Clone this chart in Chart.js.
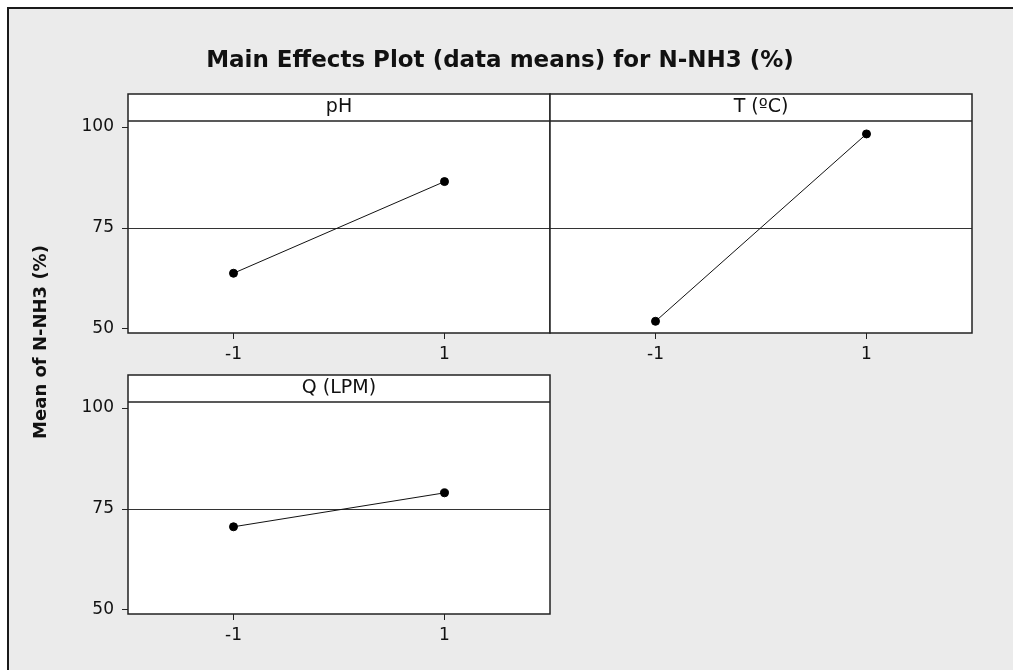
<!DOCTYPE html>
<html>
<head>
<meta charset="utf-8">
<script src="https://cdn.jsdelivr.net/npm/chart.js"></script>
<style>
  html, body { margin: 0; overflow: hidden; background: #fff; }
  #frame { position: fixed; left: 7px; top: 7px; right: -100px; bottom: -100px; background: #ebebeb;
    border-left: 2px solid #1a1a1a; border-top: 2px solid #1a1a1a; }
  canvas { position: absolute; }
  #title { position: absolute; left: 0; top: 48px; width: 1000px; text-align: center;
    font: bold 23px 'DejaVu Sans'; line-height: 23px; color: #111; }
  #ytitle { position: absolute; left: -109px; top: 330px; width: 300px; height: 24px; line-height: 24px;
    text-align: center; font: bold 18px 'DejaVu Sans'; color: #111; transform: rotate(-90deg); }
</style>
</head>
<body>
<div id="frame"></div>
<div id="title">Main Effects Plot (data means) for N-NH3 (%)</div>
<div id="ytitle">Mean of N-NH3 (%)</div>
<canvas id="phChart" width="500" height="285" style="left:60px;top:85px"></canvas>
<canvas id="tempChart" width="445" height="285" style="left:540px;top:85px"></canvas>
<canvas id="flowChart" width="500" height="305" style="left:60px;top:365px"></canvas>
<script>
// factor levels and mean responses
const xLevels = [-1, 1];
const xTickLabels = ['-1', '1'];
const yTicks = [50, 75, 100];
const phMeans = [63.8, 86.5];
const tempMeans = [51.9, 98.3];
const flowMeans = [70.6, 79.0];

const allValues = [...phMeans, ...tempMeans, ...flowMeans];
const grandMean = allValues.reduce((a, b) => a + b, 0) / allValues.length;

Chart.defaults.font.family = 'DejaVu Sans';
Chart.defaults.color = '#111';

const STRIP = 27;

// white panel, strip header, reference line and frame
const panelPlugin = {
  id: 'panel',
  beforeDraw(chart) {
    const { ctx, chartArea: a } = chart;
    ctx.save();
    ctx.fillStyle = '#fff';
    ctx.fillRect(a.left, a.top - STRIP, a.right - a.left, a.bottom - a.top + STRIP);
    ctx.restore();
  },
  beforeDatasetsDraw(chart) {
    const { ctx, chartArea: a, scales } = chart;
    const y = Math.round(scales.y.getPixelForValue(grandMean)) + 0.5;
    ctx.save();
    ctx.strokeStyle = '#333';
    ctx.lineWidth = 1;
    ctx.beginPath();
    ctx.moveTo(a.left, y);
    ctx.lineTo(a.right, y);
    ctx.stroke();
    ctx.restore();
  },
  afterDraw(chart, args, opts) {
    const { ctx, chartArea: a } = chart;
    ctx.save();
    ctx.strokeStyle = '#222';
    ctx.lineWidth = 1.5;
    ctx.beginPath();
    ctx.moveTo(a.left, a.top);
    ctx.lineTo(a.right, a.top);
    ctx.stroke();
    ctx.strokeRect(a.left, a.top - STRIP, a.right - a.left, a.bottom - a.top + STRIP);
    ctx.fillStyle = '#111';
    ctx.font = '19px "DejaVu Sans"';
    ctx.textAlign = 'center';
    ctx.textBaseline = 'middle';
    ctx.fillText(opts.label, (a.left + a.right) / 2, a.top - STRIP / 2);
    ctx.restore();
  }
};

function makePanel(id, label, means, showY, pad, xHeight) {
  new Chart(document.getElementById(id), {
    type: 'scatter',
    data: {
      datasets: [{
        data: xLevels.map((x, i) => ({ x, y: means[i] })),
        showLine: true,
        borderColor: '#111',
        borderWidth: 1,
        pointRadius: 4,
        pointBackgroundColor: '#000',
        pointBorderColor: '#000'
      }]
    },
    options: {
      responsive: false,
      animation: false,
      layout: { padding: pad, autoPadding: false },
      plugins: {
        legend: { display: false },
        tooltip: { enabled: false },
        panel: { label }
      },
      scales: {
        x: {
          type: 'linear',
          min: -2,
          max: 2,
          afterBuildTicks: s => { s.ticks = xLevels.map(v => ({ value: v })); },
          afterFit: s => { s.height = xHeight; },
          border: { display: false },
          grid: { drawOnChartArea: false, drawTicks: true, tickLength: 6, color: '#222' },
          ticks: {
            font: { size: 17 },
            padding: 5,
            callback: (v) => xTickLabels[xLevels.indexOf(v)]
          }
        },
        y: {
          display: showY,
          min: 49,
          max: 101.5,
          afterBuildTicks: s => { s.ticks = yTicks.map(v => ({ value: v })); },
          afterFit: s => { s.width = showY ? 68 : 0; },
          border: { display: false },
          grid: { drawOnChartArea: false, drawTicks: true, tickLength: 6, color: '#222' },
          ticks: { font: { size: 17 }, padding: 8 }
        }
      }
    },
    plugins: [panelPlugin]
  });
}

makePanel('phChart', 'pH', phMeans, true, { left: 0, right: 10, top: 36, bottom: 0 }, 37);
makePanel('tempChart', 'T (ºC)', tempMeans, false, { left: 10, right: 13, top: 36, bottom: 0 }, 37);
makePanel('flowChart', 'Q (LPM)', flowMeans, true, { left: 0, right: 10, top: 37, bottom: 0 }, 56);
</script>
</body>
</html>
